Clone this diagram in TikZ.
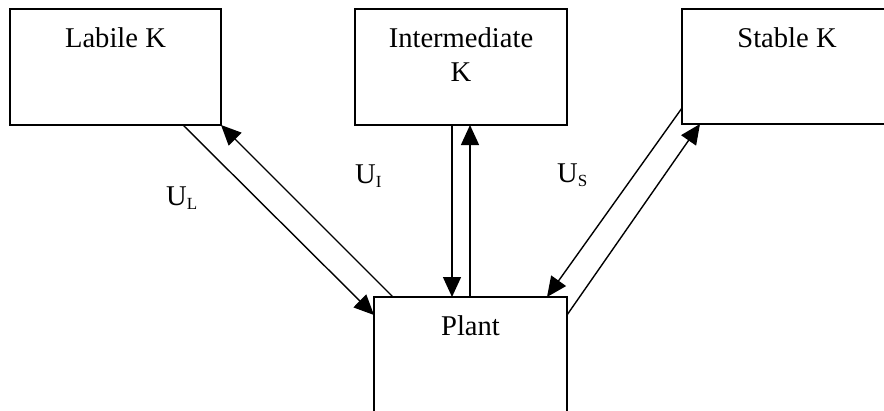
\documentclass[tikz,border=0pt]{standalone}
\usepackage{fontspec}
\setmainfont{Liberation Serif}
\usetikzlibrary{arrows.meta,calc}
\tikzset{
  compbox/.style={draw, line width=1.5pt, inner sep=0pt, outer sep=0pt},
  boxtext/.style={anchor=base, inner sep=0pt, font=\fontsize{28.6}{34}\selectfont, align=center},
  flowlab/.style={anchor=base west, inner sep=0pt, font=\fontsize{28.6}{34}\selectfont},
  flow/.style={line width=1.4pt, -{Triangle[length=20pt,width=18pt]}}
}
\newcommand{\subl}[1]{\raisebox{-4pt}{\fontsize{17}{17}\selectfont #1}}
\begin{document}
\begin{tikzpicture}[x=1pt,y=-1pt]
\useasboundingbox (0,0) rectangle (884,410);
% boxes
\node[compbox, minimum width=211pt, minimum height=116pt] (lab) at (115.5,67) {};
\node[compbox, minimum width=212pt, minimum height=116pt] (int) at (461,67) {};
\node[compbox, minimum width=210pt, minimum height=115pt] (sta) at (787,66.5) {};
\node[compbox, minimum width=193pt, minimum height=150pt] (pla) at (470.5,372) {};
% box texts
\node[boxtext] (labt) at (115.5,47) {Labile K};
\node[boxtext] (intt) at (461,81) {Intermediate\\K};
\node[boxtext] (stat) at (787,47) {Stable K};
\node[boxtext] (plat) at (470.5,335) {Plant};
% anchor points
\coordinate (l1a) at ($(lab.south east)+(-38,0)$);
\coordinate (l1b) at ($(pla.north west)+(0,18)$);
\coordinate (l2a) at ($(pla.north west)+(19,0)$);
\coordinate (i1a) at ($(int.south west)+(97,0)$);
\coordinate (i1b) at ($(pla.north west)+(78,0)$);
\coordinate (i2a) at ($(pla.north west)+(96,0)$);
\coordinate (i2b) at ($(int.south west)+(115,0)$);
\coordinate (s1a) at ($(sta.south west)+(0,-16)$);
\coordinate (s1b) at ($(pla.north east)+(-20,0)$);
\coordinate (s2a) at ($(pla.north east)+(0,18)$);
\coordinate (s2b) at ($(sta.south west)+(18,0)$);
% connectors
\draw[flow] (l1a) -- (l1b);
\draw[flow] (l2a) -- (lab.south east);
\draw[flow] (i1a) -- (i1b);
\draw[flow] (i2a) -- (i2b);
\draw[flow] (s1a) -- (s1b);
\draw[flow] (s2a) -- (s2b);
% labels
\node[flowlab] (ul) at (166,205) {U\subl{L}};
\node[flowlab] (ui) at (355,183) {U\subl{I}};
\node[flowlab] (us) at (557,182) {U\subl{S}};
\end{tikzpicture}
\end{document}
